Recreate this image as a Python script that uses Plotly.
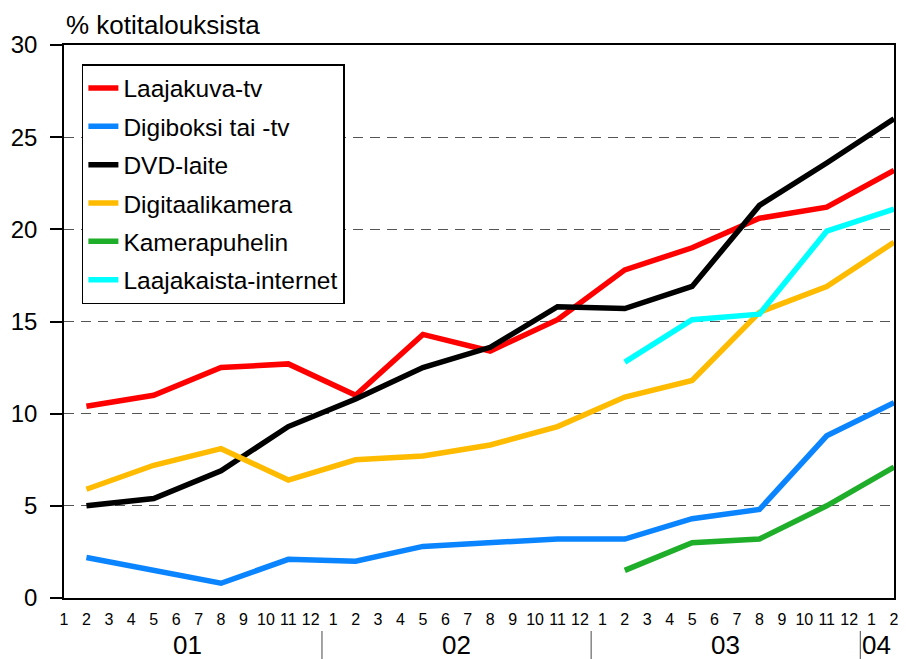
import plotly.graph_objects as go

# ---- data ----
periods = ["2001-02", "2001-05", "2001-08", "2001-11",
           "2002-02", "2002-05", "2002-08", "2002-11",
           "2003-02", "2003-05", "2003-08", "2003-11", "2004-02"]

laajakuva_tv = [10.4, 11.0, 12.5, 12.7, 11.0, 14.3, 13.4, 15.1, 17.8, 19.0, 20.6, 21.2, 23.2]
digiboksi = [2.2, 1.5, 0.8, 2.1, 2.0, 2.8, 3.0, 3.2, 3.2, 4.3, 4.8, 8.8, 10.6]
dvd_laite = [5.0, 5.4, 6.9, 9.3, 10.8, 12.5, 13.6, 15.8, 15.7, 16.9, 21.3, 23.6, 26.0]
digitaalikamera = [5.9, 7.2, 8.1, 6.4, 7.5, 7.7, 8.3, 9.3, 10.9, 11.8, 15.5, 16.9, 19.3]
kamerapuhelin = [None] * 8 + [1.5, 3.0, 3.2, 5.0, 7.1]
laajakaista = [None] * 8 + [12.8, 15.1, 15.4, 19.9, 21.1]

series_names = ["Laajakuva-tv", "Digiboksi tai -tv", "DVD-laite",
                "Digitaalikamera", "Kamerapuhelin", "Laajakaista-internet"]
series_values = [laajakuva_tv, digiboksi, dvd_laite, digitaalikamera, kamerapuhelin, laajakaista]
series_colors = ["#FF0000", "#0A84FF", "#000000", "#FFBB00", "#1EAE2A", "#00FFFF"]

years = ["01", "02", "03", "04"]
start_year = 2001
n_months = 38  # 2001-01 .. 2004-02
month_labels = [str(i % 12 + 1) for i in range(n_months)]

FONT = "Arial, Liberation Sans, sans-serif"

W, H = 906, 659
PL, PR, PT, PB = 64, 899, 45, 598  # plot area in page pixels


def month_index(p):
    y, m = p.split("-")
    return (int(y) - start_year) * 12 + int(m) - 1


def py(page_y):
    return (PB - page_y) / (PB - PT)


def px(page_x):
    return (page_x - PL) / (PR - PL)


xs = [month_index(p) for p in periods]

fig = go.Figure()
for i, (name, vals, col) in enumerate(zip(series_names, series_values, series_colors)):
    fig.add_trace(go.Scatter(
        x=xs, y=vals, name=name, mode="lines",
        line=dict(color=col, width=5.5),
        legendgroup=f"g{i}",
        connectgaps=False,
    ))

# year labels and separators
year_centers = [5.5, 17.5, 29.5, 36.2]
annotations = [dict(text=y, x=xc, y=py(645), xref="x", yref="paper",
                    showarrow=False, font=dict(size=26, color="black", family=FONT),
                    xanchor="center", yanchor="middle")
               for y, xc in zip(years, year_centers)]
annotations.append(dict(text="% kotitalouksista", x=px(64), y=py(25), xref="paper", yref="paper",
                        showarrow=False, font=dict(size=26, color="black", family=FONT),
                        xanchor="left", yanchor="middle"))

shapes = []
for sx in [11.5, 23.5, 35.5]:
    shapes.append(dict(type="line", xref="x", yref="paper", x0=sx, x1=sx,
                       y0=py(631), y1=py(662), line=dict(color="#666666", width=1.2)))

fig.update_layout(
    width=W, height=H,
    margin=dict(l=PL, r=W - PR, t=PT, b=H - PB),
    paper_bgcolor="white", plot_bgcolor="white",
    font=dict(family=FONT, color="black"),
    showlegend=True,
    legend=dict(
        x=px(82), y=py(64), xanchor="left", yanchor="top",
        bgcolor="white", bordercolor="black", borderwidth=1.5,
        font=dict(size=24.5, family=FONT, color="black"),
        traceorder="grouped", tracegroupgap=3.5,
        itemwidth=30,
    ),
    annotations=annotations,
    shapes=shapes,
)

fig.update_xaxes(
    range=[0, n_months - 1],
    tickmode="array", tickvals=list(range(n_months)), ticktext=month_labels,
    tickangle=0,
    tickfont=dict(size=16, family=FONT, color="black"),
    showgrid=False, zeroline=False,
    showline=True, linecolor="black", linewidth=1.5, mirror=True,
    ticks="", ticklabelstandoff=6,
)
fig.update_yaxes(
    range=[0, 30], tick0=0, dtick=5,
    tickfont=dict(size=24, family=FONT, color="black"),
    showgrid=True, gridcolor="#555555", gridwidth=1.3, griddash="10px,7px",
    zeroline=False,
    showline=True, linecolor="black", linewidth=1.5, mirror=True,
    ticks="outside", ticklen=12, tickcolor="black", tickwidth=1.5,
    ticklabelstandoff=8,
)

fig.write_html(
    "out.html",
    config={"displayModeBar": False},
    post_script="document.body.style.margin='0';document.body.style.overflow='hidden';",
)
